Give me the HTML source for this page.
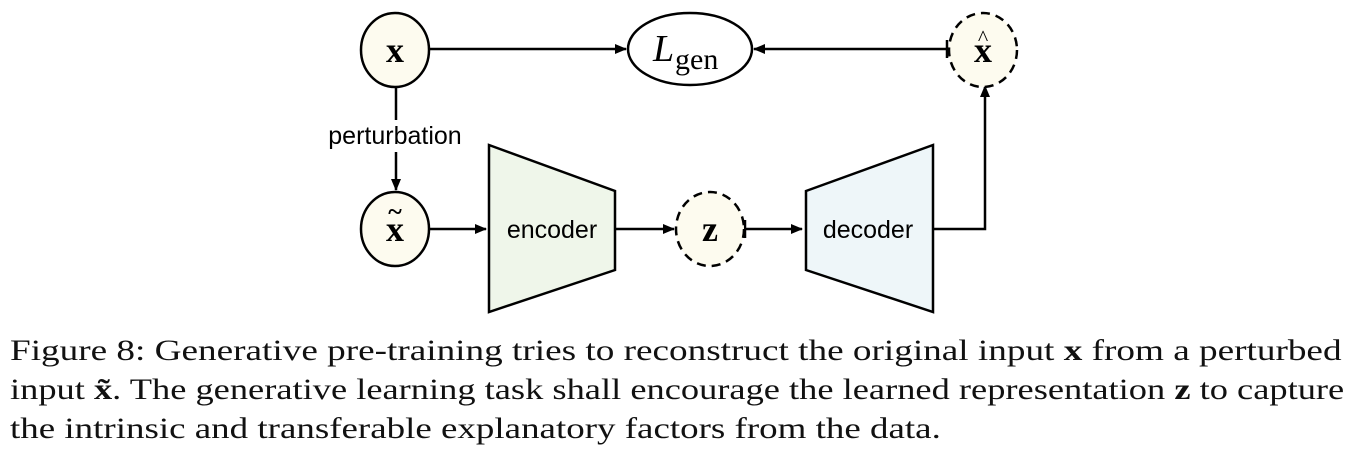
<!DOCTYPE html>
<html><head><style>
body{margin:0;background:#fff;width:1362px;height:464px;overflow:hidden;position:relative}
.cap{position:absolute;left:10px;font-family:"Liberation Serif",serif;font-size:30px;white-space:nowrap;color:#111;transform-origin:0 0}
</style></head><body>
<svg width="1362" height="330" style="position:absolute;left:0;top:0">
<defs><marker id="a" markerWidth="12" markerHeight="10" refX="11" refY="5" orient="auto" markerUnits="userSpaceOnUse"><path d="M0,0 L12,5 L0,10 z" fill="#000"/></marker></defs>
<g stroke="#000" stroke-width="2.5" fill="none">
<line x1="430" y1="49" x2="626" y2="49" marker-end="url(#a)"/>
<line x1="947" y1="49" x2="754" y2="49" marker-end="url(#a)"/>
<line x1="947" y1="40" x2="947" y2="58"/>
<line x1="396" y1="88" x2="396" y2="120"/>
<line x1="396" y1="152" x2="396" y2="190" marker-end="url(#a)"/>
<line x1="430" y1="229" x2="486" y2="229" marker-end="url(#a)"/>
<line x1="615" y1="229" x2="674" y2="229" marker-end="url(#a)"/>
<line x1="745" y1="229" x2="802" y2="229" marker-end="url(#a)"/>
<line x1="745" y1="220" x2="745" y2="238"/>
<polyline points="933,229 985,229 985,86" marker-end="url(#a)"/>
</g>
<ellipse cx="395" cy="50" rx="34" ry="37" fill="#fdfbef" stroke="#000" stroke-width="2.5"/>
<ellipse cx="395" cy="229" rx="34" ry="37" fill="#fdfbef" stroke="#000" stroke-width="2.5"/>
<ellipse cx="690" cy="49" rx="62" ry="36" fill="#fff" stroke="#000" stroke-width="2.5"/>
<ellipse cx="983" cy="50" rx="34" ry="37" fill="#fdfbef" stroke="#000" stroke-width="2.5" stroke-dasharray="9,6"/>
<ellipse cx="710" cy="229" rx="34" ry="37" fill="#fdfbef" stroke="#000" stroke-width="2.5" stroke-dasharray="9,6"/>
<polygon points="489,145 615,191 615,270 489,312" fill="#eff6ea" stroke="#000" stroke-width="2.5"/>
<polygon points="806,191 933,145 933,312 806,270" fill="#eef6f9" stroke="#000" stroke-width="2.5"/>
<g font-family="Liberation Serif,serif" font-weight="bold" font-size="36" text-anchor="middle">
<text x="395" y="62">x</text>
<text x="395" y="241">x</text>
<text x="395" y="220" font-size="26">~</text>
<text x="983" y="62">x</text>
<text x="983" y="45" font-weight="normal" font-size="22">^</text>
<text x="710" y="241">z</text>
</g>
<text x="653" y="61" font-family="Liberation Serif,serif" font-style="italic" font-size="38">L</text>
<text x="675" y="69" font-family="Liberation Serif,serif" font-size="30">gen</text>
<g font-family="Liberation Sans,sans-serif" font-size="25" text-anchor="middle">
<text x="395" y="144">perturbation</text>
<text x="552" y="238">encoder</text>
<text x="868" y="238">decoder</text>
</g>
</svg>
<div class="cap" style="top:334px;transform:scaleX(1.24)">Figure 8: Generative pre-training tries to reconstruct the original input <b>x</b> from a perturbed</div>
<div class="cap" style="top:373px;transform:scaleX(1.214)">input <b>x̃</b>. The generative learning task shall encourage the learned representation <b>z</b> to capture</div>
<div class="cap" style="top:412px;transform:scaleX(1.232)">the intrinsic and transferable explanatory factors from the data.</div>
</body></html>
